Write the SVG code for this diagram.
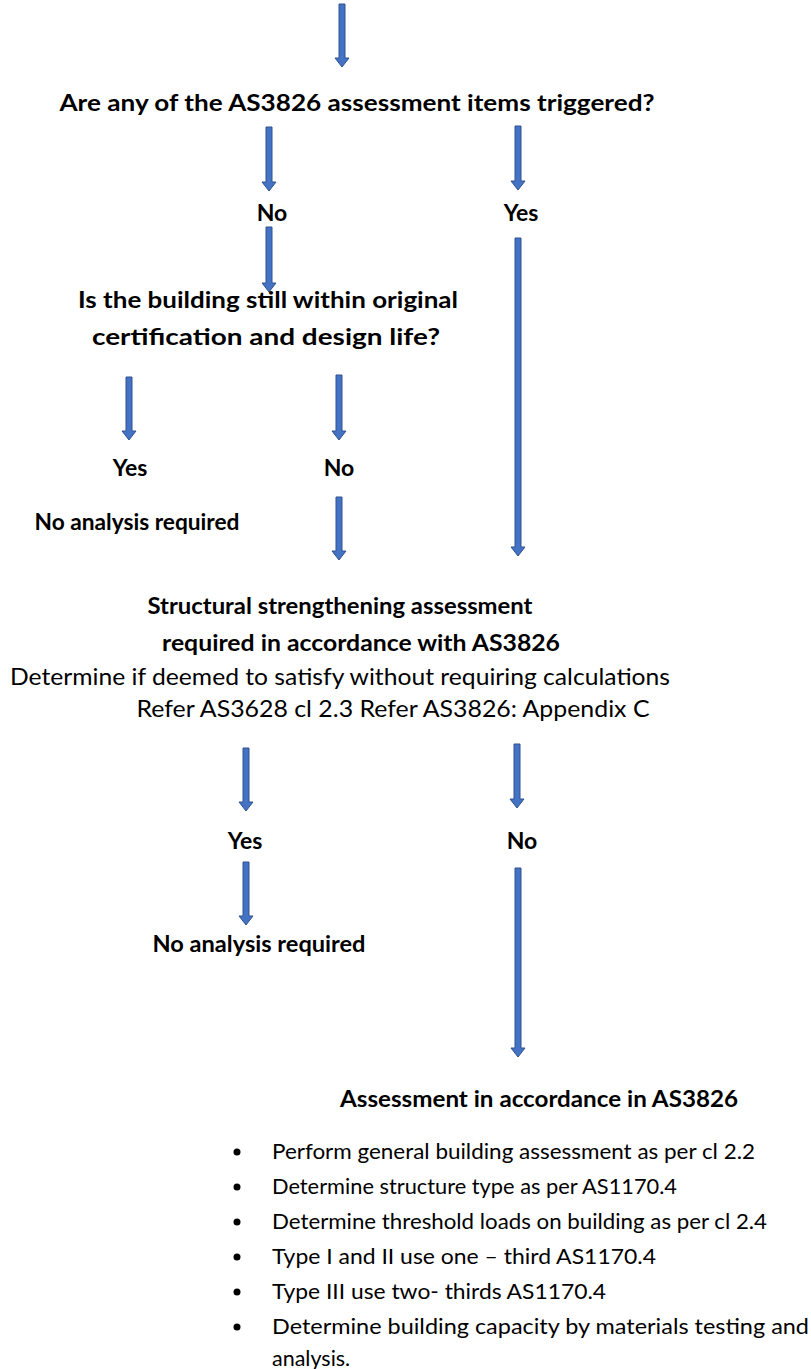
<svg xmlns="http://www.w3.org/2000/svg" width="811" height="1369" viewBox="0 0 811 1369">
<style>
.arr{fill:#4472C4;stroke:#2F528F;stroke-width:1}
.b{font-family:Lato,"Open Sans","Liberation Sans",sans-serif;font-weight:bold;font-size:23px;fill:#000;text-anchor:middle}
.r{font-family:Lato,"Open Sans","Liberation Sans",sans-serif;font-size:22.5px;fill:#000}
.bl{font-size:21.5px}
.rm{text-anchor:middle}
.dot{fill:#000}
</style>
<rect width="811" height="1369" fill="#fff"/>
<g id="connectors">
<path class="arr" d="M339 4H345V58H349L342 67L335 58H339Z"/>
<path class="arr" d="M266 127H272V182H276L269 191L262 182H266Z"/>
<path class="arr" d="M515 126H521V181H525L518 190L511 181H515Z"/>
<path class="arr" d="M266 227H272V283H276L269 292L262 283H266Z"/>
<path class="arr" d="M515 238H521V547H525L518 556L511 547H515Z"/>
<path class="arr" d="M126 377H132V431H136L129 440L122 431H126Z"/>
<path class="arr" d="M336 375H342V431H346L339 440L332 431H336Z"/>
<path class="arr" d="M336 497H342V551H346L339 560L332 551H336Z"/>
<path class="arr" d="M243 748H249V802H253L246 811L239 802H243Z"/>
<path class="arr" d="M514 744H520V799H524L517 808L510 799H514Z"/>
<path class="arr" d="M243 862H249V916H253L246 925L239 916H243Z"/>
<path class="arr" d="M515 868H521V1048H525L518 1057L511 1048H515Z"/>
</g>
<g id="q1"><text class="b" x="357" y="111" textLength="595" lengthAdjust="spacingAndGlyphs">Are any of the AS3826 assessment items triggered?</text></g>
<g id="no1"><text class="b" x="272" y="221">No</text></g>
<g id="yes1"><text class="b" x="521" y="221">Yes</text></g>
<g id="q2"><text class="b" x="268" y="308" textLength="380" lengthAdjust="spacingAndGlyphs">Is the building still within original</text><text class="b" x="266" y="345" textLength="348" lengthAdjust="spacingAndGlyphs">certification and design life?</text></g>
<g id="yes2"><text class="b" x="130" y="476">Yes</text></g>
<g id="no2"><text class="b" x="339" y="476">No</text></g>
<g id="na1"><text class="b" x="137" y="530" textLength="205" lengthAdjust="spacingAndGlyphs">No analysis required</text></g>
<g id="ssa"><text class="b" x="340" y="614" textLength="385" lengthAdjust="spacingAndGlyphs">Structural strengthening assessment</text><text class="b" x="361" y="651" textLength="398" lengthAdjust="spacingAndGlyphs">required in accordance with AS3826</text><text class="r rm" x="340" y="685" textLength="660" lengthAdjust="spacingAndGlyphs">Determine if deemed to satisfy without requiring calculations</text><text class="r rm" x="393" y="717" textLength="513" lengthAdjust="spacingAndGlyphs">Refer AS3628 cl 2.3 Refer AS3826: Appendix C</text></g>
<g id="yes3"><text class="b" x="245" y="849">Yes</text></g>
<g id="no3"><text class="b" x="522" y="849">No</text></g>
<g id="na2"><text class="b" x="259" y="952" textLength="213" lengthAdjust="spacingAndGlyphs">No analysis required</text></g>
<g id="assess"><text class="b" x="539" y="1107" textLength="398" lengthAdjust="spacingAndGlyphs">Assessment in accordance in AS3826</text>
<circle class="dot" cx="237" cy="1152" r="3.5"/><text class="r bl" x="272" y="1159" textLength="483" lengthAdjust="spacingAndGlyphs">Perform general building assessment as per cl 2.2</text>
<circle class="dot" cx="237" cy="1187" r="3.5"/><text class="r bl" x="272" y="1194" textLength="405" lengthAdjust="spacingAndGlyphs">Determine structure type as per AS1170.4</text>
<circle class="dot" cx="237" cy="1222" r="3.5"/><text class="r bl" x="272" y="1229" textLength="495" lengthAdjust="spacingAndGlyphs">Determine threshold loads on building as per cl 2.4</text>
<circle class="dot" cx="237" cy="1257" r="3.5"/><text class="r bl" x="272" y="1264" textLength="384" lengthAdjust="spacingAndGlyphs">Type I and II use one – third AS1170.4</text>
<circle class="dot" cx="237" cy="1292" r="3.5"/><text class="r bl" x="272" y="1299" textLength="334" lengthAdjust="spacingAndGlyphs">Type III use two- thirds AS1170.4</text>
<circle class="dot" cx="237" cy="1327" r="3.5"/><text class="r bl" x="272" y="1334" textLength="537" lengthAdjust="spacingAndGlyphs">Determine building capacity by materials testing and</text>
<text class="r bl" x="272" y="1366">analysis.</text></g>
</svg>
